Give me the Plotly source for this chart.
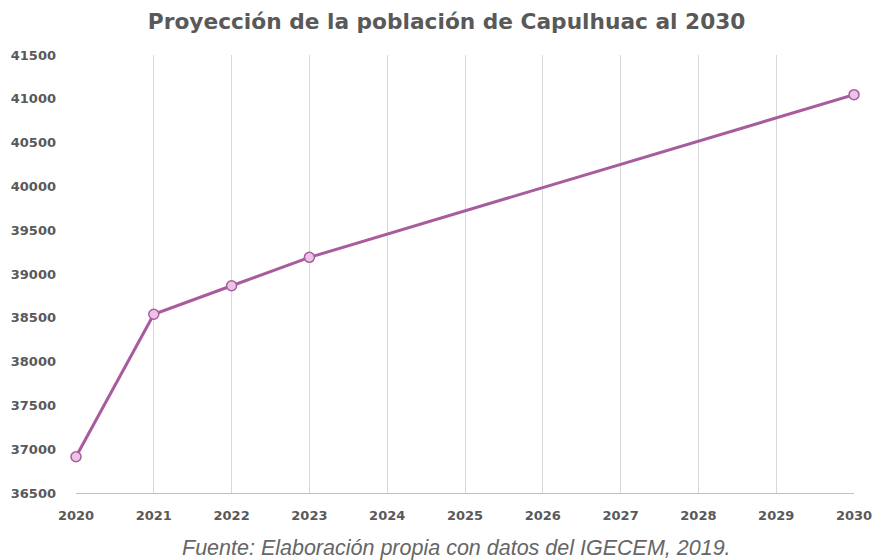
import plotly.graph_objects as go

years = [2020, 2021, 2022, 2023, 2030]
poblacion = [36914, 38540, 38866, 39190, 41047]
x_ticks = list(range(2020, 2031))
y_ticks = list(range(36500, 42000, 500))

fig = go.Figure()
fig.add_trace(go.Scatter(
    x=years, y=poblacion, mode="lines+markers",
    line=dict(color="#A85C9E", width=3),
    marker=dict(size=10, color="#EBC3E4", line=dict(color="#A85C9E", width=1.5)),
    cliponaxis=False, showlegend=False,
))

fig.update_layout(
    width=874, height=560,
    margin=dict(l=76, r=20, t=55, b=67),
    paper_bgcolor="white", plot_bgcolor="white",
    title=dict(text="<b>Proyección de la población de Capulhuac al 2030</b>",
               x=0.511, xanchor="center", y=0.9625, yanchor="middle",
               font=dict(family="DejaVu Sans", size=21.7, color="#595959")),
    font=dict(family="DejaVu Sans", color="#595959"),
)
fig.update_xaxes(
    range=[2020, 2030], tickvals=x_ticks, ticktext=[f"<b>{v}</b>" for v in x_ticks],
    showgrid=True, gridcolor="#D9D9D9", gridwidth=1.2,
    showline=True, linecolor="#BFBFBF", linewidth=1.2,
    zeroline=False, ticks="", ticklabelstandoff=10, automargin=False,
    tickfont=dict(family="DejaVu Sans", size=13, color="#595959"),
)
fig.update_yaxes(
    range=[36500, 41500], tickvals=y_ticks, ticktext=[f"<b>{v}</b>" for v in y_ticks],
    showgrid=False, showline=False, zeroline=False, ticks="",
    ticklabelstandoff=19, automargin=False,
    tickfont=dict(family="DejaVu Sans", size=13, color="#595959"),
)
fig.add_annotation(
    text="<i>Fuente: Elaboración propia con datos del IGECEM, 2019.</i>",
    xref="paper", yref="paper", x=0.4897, y=-0.1256, xanchor="center", yanchor="middle",
    showarrow=False, font=dict(family="Liberation Sans", size=21.5, color="#666666"),
)
fig.write_html("out.html", config={"displayModeBar": False},
               post_script="document.body.style.margin='0';")
